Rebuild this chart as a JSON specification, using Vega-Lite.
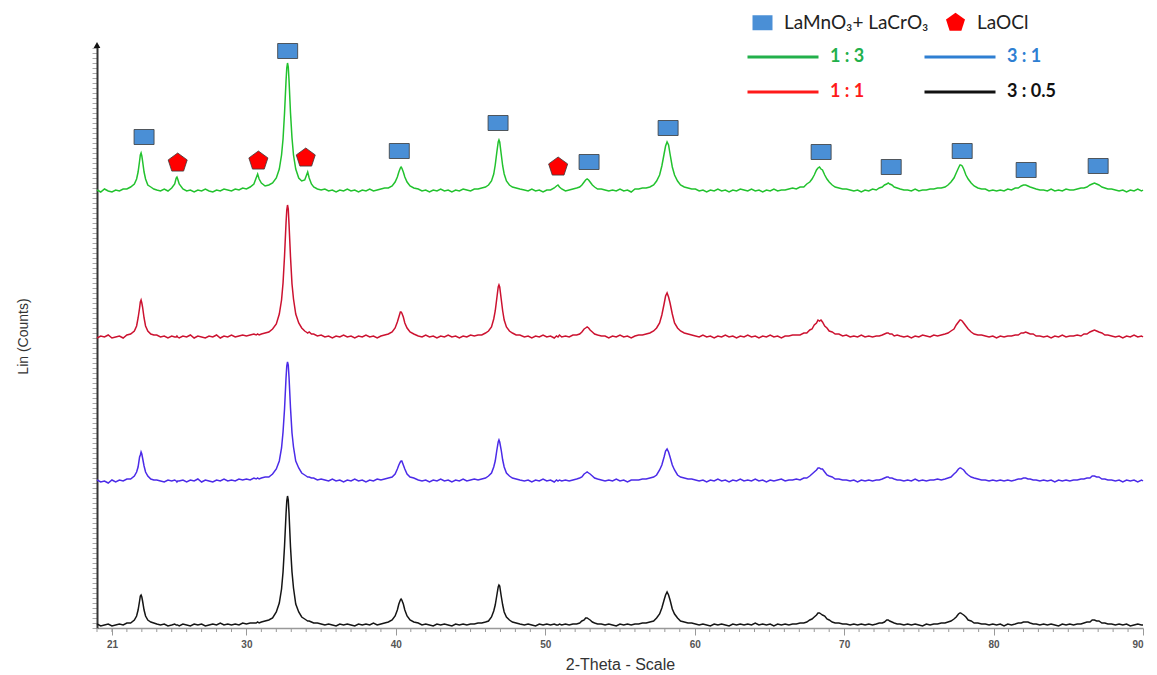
{
  "$schema": "https://vega.github.io/schema/vega-lite/v6.json",
  "width": 1046,
  "height": 583,
  "autosize": {"type": "none"},
  "padding": {"left": 97, "top": 45, "right": 14, "bottom": 47},
  "background": "white",
  "config": {"view": {"stroke": null}, "legend": {"padding": 0}},
  "layer": [
    {
      "data": {"values": [
        {"theta":20.0,"g":438,"r":290,"b":148,"k":4},
        {"theta":20.25,"g":436,"r":292,"b":146,"k":2},
        {"theta":20.5,"g":439,"r":291,"b":147,"k":3},
        {"theta":20.75,"g":437,"r":293,"b":145,"k":4},
        {"theta":21.0,"g":436,"r":290,"b":148,"k":2},
        {"theta":21.25,"g":438,"r":291,"b":146,"k":3},
        {"theta":21.5,"g":437,"r":292,"b":148,"k":4},
        {"theta":21.75,"g":439,"r":290,"b":147,"k":3},
        {"theta":22.0,"g":439,"r":293,"b":149,"k":5},
        {"theta":22.25,"g":441,"r":294,"b":149,"k":5},
        {"theta":22.5,"g":444,"r":297,"b":152,"k":8},
        {"theta":22.65,"g":449,"r":302,"b":156,"k":12},
        {"theta":22.75,"g":456,"r":310,"b":161,"k":18},
        {"theta":22.85,"g":467,"r":320,"b":171,"k":27},
        {"theta":22.9,"g":473,"r":326,"b":173,"k":32},
        {"theta":22.95,"g":475,"r":328,"b":176,"k":33},
        {"theta":23.0,"g":472,"r":325,"b":174,"k":31},
        {"theta":23.05,"g":467,"r":321,"b":170,"k":27},
        {"theta":23.15,"g":456,"r":310,"b":162,"k":18},
        {"theta":23.25,"g":449,"r":302,"b":156,"k":12},
        {"theta":23.4,"g":443,"r":297,"b":152,"k":8},
        {"theta":23.6,"g":441,"r":294,"b":149,"k":6},
        {"theta":23.8,"g":439,"r":293,"b":148,"k":5},
        {"theta":24.0,"g":438,"r":293,"b":148,"k":4},
        {"theta":24.25,"g":437,"r":291,"b":147,"k":3},
        {"theta":24.5,"g":439,"r":292,"b":146,"k":4},
        {"theta":24.75,"g":437,"r":290,"b":148,"k":2},
        {"theta":25.0,"g":440,"r":292,"b":147,"k":3},
        {"theta":25.2,"g":444,"r":291,"b":148,"k":4},
        {"theta":25.3,"g":450,"r":291,"b":147,"k":3},
        {"theta":25.35,"g":451,"r":292,"b":146,"k":3},
        {"theta":25.4,"g":449,"r":291,"b":147,"k":3},
        {"theta":25.5,"g":444,"r":290,"b":147,"k":2},
        {"theta":25.75,"g":439,"r":292,"b":148,"k":4},
        {"theta":26.0,"g":437,"r":291,"b":146,"k":3},
        {"theta":26.25,"g":438,"r":293,"b":148,"k":2},
        {"theta":26.5,"g":436,"r":290,"b":147,"k":4},
        {"theta":26.75,"g":438,"r":292,"b":149,"k":3},
        {"theta":27.0,"g":437,"r":291,"b":146,"k":4},
        {"theta":27.25,"g":439,"r":290,"b":148,"k":2},
        {"theta":27.5,"g":437,"r":292,"b":147,"k":3},
        {"theta":27.75,"g":436,"r":291,"b":146,"k":4},
        {"theta":28.0,"g":438,"r":293,"b":148,"k":3},
        {"theta":28.25,"g":437,"r":290,"b":147,"k":5},
        {"theta":28.5,"g":439,"r":292,"b":149,"k":3},
        {"theta":28.75,"g":438,"r":291,"b":147,"k":4},
        {"theta":29.0,"g":437,"r":293,"b":148,"k":3},
        {"theta":29.25,"g":439,"r":291,"b":147,"k":4},
        {"theta":29.5,"g":438,"r":292,"b":149,"k":3},
        {"theta":29.75,"g":440,"r":293,"b":148,"k":5},
        {"theta":30.0,"g":439,"r":292,"b":149,"k":4},
        {"theta":30.25,"g":441,"r":293,"b":148,"k":5},
        {"theta":30.5,"g":444,"r":294,"b":150,"k":5},
        {"theta":30.65,"g":450,"r":293,"b":149,"k":5},
        {"theta":30.75,"g":454,"r":294,"b":150,"k":6},
        {"theta":30.85,"g":449,"r":293,"b":149,"k":5},
        {"theta":31.0,"g":445,"r":294,"b":150,"k":6},
        {"theta":31.25,"g":442,"r":295,"b":151,"k":7},
        {"theta":31.5,"g":443,"r":296,"b":151,"k":8},
        {"theta":31.75,"g":445,"r":299,"b":154,"k":10},
        {"theta":32.0,"g":450,"r":304,"b":159,"k":16},
        {"theta":32.2,"g":459,"r":314,"b":167,"k":25},
        {"theta":32.35,"g":473,"r":328,"b":180,"k":39},
        {"theta":32.45,"g":489,"r":345,"b":196,"k":56},
        {"theta":32.55,"g":515,"r":372,"b":219,"k":82},
        {"theta":32.65,"g":547,"r":405,"b":250,"k":114},
        {"theta":32.7,"g":560,"r":418,"b":262,"k":127},
        {"theta":32.75,"g":565,"r":423,"b":266,"k":132},
        {"theta":32.8,"g":561,"r":419,"b":263,"k":128},
        {"theta":32.85,"g":548,"r":404,"b":251,"k":115},
        {"theta":32.95,"g":515,"r":371,"b":220,"k":81},
        {"theta":33.05,"g":490,"r":344,"b":195,"k":56},
        {"theta":33.15,"g":473,"r":329,"b":181,"k":40},
        {"theta":33.3,"g":459,"r":314,"b":167,"k":24},
        {"theta":33.5,"g":450,"r":305,"b":160,"k":16},
        {"theta":33.7,"g":447,"r":300,"b":155,"k":11},
        {"theta":33.9,"g":448,"r":297,"b":153,"k":9},
        {"theta":34.0,"g":452,"r":296,"b":152,"k":8},
        {"theta":34.1,"g":456,"r":295,"b":151,"k":7},
        {"theta":34.2,"g":450,"r":296,"b":151,"k":7},
        {"theta":34.35,"g":444,"r":294,"b":150,"k":6},
        {"theta":34.5,"g":441,"r":294,"b":150,"k":5},
        {"theta":34.75,"g":439,"r":292,"b":148,"k":5},
        {"theta":35.0,"g":438,"r":293,"b":149,"k":4},
        {"theta":35.25,"g":439,"r":291,"b":148,"k":3},
        {"theta":35.5,"g":437,"r":292,"b":147,"k":4},
        {"theta":35.75,"g":438,"r":290,"b":149,"k":3},
        {"theta":36.0,"g":436,"r":292,"b":147,"k":2},
        {"theta":36.25,"g":438,"r":291,"b":148,"k":4},
        {"theta":36.5,"g":437,"r":293,"b":146,"k":3},
        {"theta":36.75,"g":439,"r":291,"b":148,"k":4},
        {"theta":37.0,"g":437,"r":292,"b":147,"k":3},
        {"theta":37.25,"g":438,"r":290,"b":149,"k":2},
        {"theta":37.5,"g":436,"r":292,"b":147,"k":4},
        {"theta":37.75,"g":438,"r":291,"b":148,"k":3},
        {"theta":38.0,"g":437,"r":293,"b":146,"k":4},
        {"theta":38.25,"g":439,"r":291,"b":148,"k":3},
        {"theta":38.5,"g":437,"r":292,"b":147,"k":5},
        {"theta":38.75,"g":438,"r":290,"b":149,"k":3},
        {"theta":39.0,"g":439,"r":292,"b":148,"k":4},
        {"theta":39.25,"g":440,"r":293,"b":149,"k":5},
        {"theta":39.5,"g":440,"r":294,"b":150,"k":6},
        {"theta":39.75,"g":442,"r":296,"b":151,"k":8},
        {"theta":39.95,"g":446,"r":300,"b":154,"k":12},
        {"theta":40.1,"g":451,"r":306,"b":159,"k":18},
        {"theta":40.2,"g":456,"r":311,"b":163,"k":24},
        {"theta":40.3,"g":460,"r":316,"b":166,"k":28},
        {"theta":40.35,"g":461,"r":316,"b":167,"k":29},
        {"theta":40.4,"g":460,"r":315,"b":167,"k":28},
        {"theta":40.5,"g":456,"r":311,"b":163,"k":24},
        {"theta":40.6,"g":451,"r":305,"b":159,"k":18},
        {"theta":40.75,"g":446,"r":300,"b":154,"k":12},
        {"theta":40.95,"g":442,"r":296,"b":151,"k":8},
        {"theta":41.2,"g":440,"r":294,"b":150,"k":6},
        {"theta":41.5,"g":439,"r":292,"b":148,"k":5},
        {"theta":41.75,"g":437,"r":291,"b":147,"k":3},
        {"theta":42.0,"g":438,"r":293,"b":148,"k":4},
        {"theta":42.25,"g":436,"r":291,"b":146,"k":3},
        {"theta":42.5,"g":438,"r":292,"b":148,"k":2},
        {"theta":42.75,"g":437,"r":290,"b":147,"k":4},
        {"theta":43.0,"g":439,"r":292,"b":149,"k":3},
        {"theta":43.25,"g":437,"r":291,"b":147,"k":4},
        {"theta":43.5,"g":438,"r":293,"b":148,"k":3},
        {"theta":43.75,"g":436,"r":291,"b":146,"k":2},
        {"theta":44.0,"g":438,"r":292,"b":148,"k":4},
        {"theta":44.25,"g":437,"r":290,"b":147,"k":3},
        {"theta":44.5,"g":439,"r":292,"b":149,"k":4},
        {"theta":44.75,"g":438,"r":291,"b":147,"k":3},
        {"theta":45.0,"g":437,"r":293,"b":148,"k":4},
        {"theta":45.25,"g":439,"r":292,"b":149,"k":4},
        {"theta":45.5,"g":439,"r":293,"b":148,"k":5},
        {"theta":45.75,"g":440,"r":293,"b":149,"k":5},
        {"theta":46.0,"g":441,"r":295,"b":150,"k":6},
        {"theta":46.2,"g":443,"r":297,"b":152,"k":7},
        {"theta":46.4,"g":447,"r":301,"b":155,"k":11},
        {"theta":46.55,"g":454,"r":309,"b":161,"k":17},
        {"theta":46.65,"g":463,"r":317,"b":167,"k":23},
        {"theta":46.75,"g":475,"r":329,"b":177,"k":32},
        {"theta":46.85,"g":486,"r":341,"b":186,"k":41},
        {"theta":46.9,"g":488,"r":343,"b":188,"k":43},
        {"theta":46.95,"g":486,"r":341,"b":186,"k":42},
        {"theta":47.05,"g":474,"r":329,"b":178,"k":32},
        {"theta":47.15,"g":462,"r":317,"b":168,"k":23},
        {"theta":47.25,"g":454,"r":308,"b":161,"k":16},
        {"theta":47.4,"g":447,"r":301,"b":155,"k":11},
        {"theta":47.6,"g":443,"r":297,"b":152,"k":8},
        {"theta":47.8,"g":441,"r":295,"b":150,"k":6},
        {"theta":48.05,"g":440,"r":293,"b":149,"k":5},
        {"theta":48.3,"g":439,"r":293,"b":148,"k":4},
        {"theta":48.6,"g":438,"r":291,"b":147,"k":3},
        {"theta":48.85,"g":437,"r":292,"b":148,"k":4},
        {"theta":49.1,"g":439,"r":290,"b":146,"k":3},
        {"theta":49.35,"g":437,"r":292,"b":148,"k":2},
        {"theta":49.6,"g":438,"r":291,"b":147,"k":4},
        {"theta":49.85,"g":436,"r":293,"b":149,"k":3},
        {"theta":50.1,"g":438,"r":291,"b":147,"k":4},
        {"theta":50.35,"g":438,"r":292,"b":148,"k":3},
        {"theta":50.6,"g":440,"r":290,"b":146,"k":4},
        {"theta":50.75,"g":442,"r":292,"b":148,"k":3},
        {"theta":50.85,"g":443,"r":291,"b":147,"k":3},
        {"theta":50.95,"g":441,"r":293,"b":148,"k":4},
        {"theta":51.1,"g":439,"r":291,"b":147,"k":3},
        {"theta":51.35,"g":437,"r":292,"b":148,"k":4},
        {"theta":51.6,"g":438,"r":291,"b":147,"k":3},
        {"theta":51.85,"g":439,"r":293,"b":148,"k":4},
        {"theta":52.1,"g":440,"r":293,"b":149,"k":4},
        {"theta":52.3,"g":441,"r":294,"b":150,"k":5},
        {"theta":52.45,"g":443,"r":296,"b":151,"k":7},
        {"theta":52.6,"g":446,"r":299,"b":154,"k":8},
        {"theta":52.7,"g":448,"r":300,"b":155,"k":10},
        {"theta":52.8,"g":449,"r":301,"b":156,"k":10},
        {"theta":52.9,"g":448,"r":300,"b":155,"k":9},
        {"theta":53.0,"g":446,"r":298,"b":154,"k":8},
        {"theta":53.15,"g":443,"r":296,"b":152,"k":6},
        {"theta":53.3,"g":441,"r":294,"b":150,"k":5},
        {"theta":53.5,"g":439,"r":293,"b":149,"k":4},
        {"theta":53.75,"g":439,"r":292,"b":148,"k":4},
        {"theta":54.0,"g":438,"r":292,"b":147,"k":3},
        {"theta":54.25,"g":437,"r":290,"b":148,"k":4},
        {"theta":54.5,"g":438,"r":292,"b":147,"k":3},
        {"theta":54.75,"g":437,"r":291,"b":149,"k":2},
        {"theta":55.0,"g":439,"r":293,"b":147,"k":4},
        {"theta":55.25,"g":437,"r":291,"b":148,"k":3},
        {"theta":55.5,"g":438,"r":292,"b":146,"k":4},
        {"theta":55.75,"g":436,"r":290,"b":148,"k":3},
        {"theta":56.0,"g":439,"r":292,"b":148,"k":4},
        {"theta":56.25,"g":439,"r":293,"b":148,"k":4},
        {"theta":56.5,"g":440,"r":293,"b":149,"k":5},
        {"theta":56.75,"g":440,"r":294,"b":149,"k":5},
        {"theta":57.0,"g":441,"r":295,"b":150,"k":6},
        {"theta":57.25,"g":443,"r":297,"b":151,"k":7},
        {"theta":57.45,"g":447,"r":300,"b":153,"k":10},
        {"theta":57.65,"g":453,"r":305,"b":158,"k":14},
        {"theta":57.8,"g":462,"r":313,"b":163,"k":20},
        {"theta":57.95,"g":474,"r":324,"b":171,"k":28},
        {"theta":58.05,"g":482,"r":332,"b":177,"k":33},
        {"theta":58.15,"g":486,"r":335,"b":179,"k":36},
        {"theta":58.25,"g":483,"r":331,"b":176,"k":33},
        {"theta":58.35,"g":474,"r":325,"b":171,"k":28},
        {"theta":58.5,"g":461,"r":314,"b":163,"k":19},
        {"theta":58.65,"g":453,"r":305,"b":158,"k":14},
        {"theta":58.85,"g":447,"r":300,"b":153,"k":10},
        {"theta":59.05,"g":443,"r":297,"b":151,"k":7},
        {"theta":59.3,"g":441,"r":295,"b":150,"k":6},
        {"theta":59.55,"g":440,"r":294,"b":149,"k":5},
        {"theta":59.8,"g":439,"r":293,"b":149,"k":5},
        {"theta":60.05,"g":439,"r":292,"b":148,"k":4},
        {"theta":60.3,"g":437,"r":291,"b":147,"k":3},
        {"theta":60.55,"g":438,"r":293,"b":148,"k":4},
        {"theta":60.8,"g":436,"r":291,"b":146,"k":3},
        {"theta":61.05,"g":438,"r":292,"b":148,"k":2},
        {"theta":61.3,"g":437,"r":290,"b":147,"k":4},
        {"theta":61.55,"g":439,"r":292,"b":149,"k":3},
        {"theta":61.8,"g":437,"r":291,"b":147,"k":4},
        {"theta":62.05,"g":438,"r":293,"b":148,"k":3},
        {"theta":62.3,"g":436,"r":291,"b":146,"k":2},
        {"theta":62.55,"g":438,"r":292,"b":148,"k":4},
        {"theta":62.8,"g":437,"r":290,"b":147,"k":3},
        {"theta":63.05,"g":439,"r":292,"b":149,"k":4},
        {"theta":63.3,"g":438,"r":291,"b":147,"k":3},
        {"theta":63.55,"g":437,"r":293,"b":148,"k":4},
        {"theta":63.8,"g":439,"r":291,"b":147,"k":3},
        {"theta":64.05,"g":437,"r":292,"b":149,"k":5},
        {"theta":64.3,"g":438,"r":290,"b":147,"k":3},
        {"theta":64.55,"g":436,"r":292,"b":148,"k":4},
        {"theta":64.8,"g":438,"r":291,"b":146,"k":3},
        {"theta":65.05,"g":437,"r":293,"b":148,"k":4},
        {"theta":65.3,"g":439,"r":291,"b":147,"k":2},
        {"theta":65.55,"g":437,"r":292,"b":148,"k":4},
        {"theta":65.8,"g":438,"r":290,"b":149,"k":3},
        {"theta":66.05,"g":438,"r":292,"b":147,"k":4},
        {"theta":66.3,"g":439,"r":292,"b":148,"k":3},
        {"theta":66.55,"g":440,"r":293,"b":148,"k":4},
        {"theta":66.8,"g":439,"r":293,"b":149,"k":4},
        {"theta":67.05,"g":441,"r":293,"b":148,"k":5},
        {"theta":67.3,"g":441,"r":295,"b":150,"k":5},
        {"theta":67.5,"g":444,"r":295,"b":150,"k":6},
        {"theta":67.7,"g":446,"r":298,"b":152,"k":8},
        {"theta":67.85,"g":449,"r":299,"b":154,"k":9},
        {"theta":68.0,"g":453,"r":303,"b":156,"k":11},
        {"theta":68.15,"g":458,"r":305,"b":158,"k":13},
        {"theta":68.25,"g":460,"r":308,"b":160,"k":15},
        {"theta":68.35,"g":461,"r":307,"b":160,"k":15},
        {"theta":68.45,"g":459,"r":308,"b":159,"k":14},
        {"theta":68.55,"g":458,"r":306,"b":159,"k":13},
        {"theta":68.7,"g":453,"r":302,"b":156,"k":12},
        {"theta":68.85,"g":449,"r":300,"b":153,"k":9},
        {"theta":69.0,"g":446,"r":297,"b":152,"k":8},
        {"theta":69.2,"g":443,"r":296,"b":151,"k":6},
        {"theta":69.4,"g":441,"r":294,"b":149,"k":5},
        {"theta":69.65,"g":440,"r":294,"b":149,"k":5},
        {"theta":69.9,"g":439,"r":292,"b":148,"k":4},
        {"theta":70.15,"g":439,"r":293,"b":148,"k":4},
        {"theta":70.4,"g":438,"r":291,"b":147,"k":3},
        {"theta":70.65,"g":437,"r":292,"b":148,"k":4},
        {"theta":70.9,"g":438,"r":291,"b":146,"k":3},
        {"theta":71.15,"g":436,"r":293,"b":148,"k":4},
        {"theta":71.4,"g":438,"r":291,"b":147,"k":3},
        {"theta":71.65,"g":437,"r":292,"b":148,"k":4},
        {"theta":71.9,"g":439,"r":291,"b":147,"k":3},
        {"theta":72.15,"g":438,"r":292,"b":148,"k":4},
        {"theta":72.35,"g":440,"r":292,"b":148,"k":5},
        {"theta":72.55,"g":441,"r":293,"b":149,"k":5},
        {"theta":72.7,"g":443,"r":294,"b":150,"k":6},
        {"theta":72.85,"g":444,"r":295,"b":151,"k":8},
        {"theta":72.95,"g":445,"r":295,"b":151,"k":8},
        {"theta":73.05,"g":444,"r":294,"b":150,"k":7},
        {"theta":73.2,"g":443,"r":294,"b":150,"k":6},
        {"theta":73.35,"g":441,"r":292,"b":149,"k":5},
        {"theta":73.55,"g":440,"r":293,"b":148,"k":4},
        {"theta":73.75,"g":439,"r":292,"b":148,"k":4},
        {"theta":74.0,"g":438,"r":291,"b":147,"k":3},
        {"theta":74.25,"g":438,"r":292,"b":148,"k":4},
        {"theta":74.5,"g":437,"r":290,"b":147,"k":3},
        {"theta":74.75,"g":439,"r":292,"b":149,"k":4},
        {"theta":75.0,"g":437,"r":291,"b":147,"k":3},
        {"theta":75.25,"g":438,"r":293,"b":148,"k":2},
        {"theta":75.5,"g":438,"r":292,"b":147,"k":4},
        {"theta":75.75,"g":439,"r":291,"b":148,"k":3},
        {"theta":76.0,"g":439,"r":293,"b":148,"k":4},
        {"theta":76.25,"g":440,"r":292,"b":149,"k":4},
        {"theta":76.5,"g":440,"r":293,"b":148,"k":5},
        {"theta":76.75,"g":441,"r":294,"b":149,"k":5},
        {"theta":76.95,"g":443,"r":295,"b":150,"k":6},
        {"theta":77.15,"g":446,"r":297,"b":151,"k":7},
        {"theta":77.35,"g":450,"r":299,"b":154,"k":9},
        {"theta":77.5,"g":455,"r":303,"b":156,"k":11},
        {"theta":77.65,"g":460,"r":306,"b":159,"k":14},
        {"theta":77.75,"g":463,"r":308,"b":160,"k":15},
        {"theta":77.8,"g":463,"r":308,"b":160,"k":15},
        {"theta":77.9,"g":462,"r":307,"b":159,"k":14},
        {"theta":78.0,"g":459,"r":305,"b":158,"k":13},
        {"theta":78.15,"g":453,"r":302,"b":155,"k":11},
        {"theta":78.3,"g":449,"r":299,"b":153,"k":8},
        {"theta":78.5,"g":445,"r":296,"b":151,"k":7},
        {"theta":78.7,"g":442,"r":294,"b":150,"k":5},
        {"theta":78.95,"g":440,"r":293,"b":149,"k":5},
        {"theta":79.2,"g":439,"r":293,"b":148,"k":4},
        {"theta":79.45,"g":439,"r":292,"b":148,"k":4},
        {"theta":79.7,"g":437,"r":291,"b":147,"k":3},
        {"theta":79.95,"g":438,"r":292,"b":148,"k":4},
        {"theta":80.2,"g":437,"r":290,"b":147,"k":3},
        {"theta":80.45,"g":438,"r":292,"b":148,"k":4},
        {"theta":80.7,"g":437,"r":291,"b":147,"k":2},
        {"theta":80.95,"g":439,"r":292,"b":148,"k":4},
        {"theta":81.2,"g":438,"r":292,"b":147,"k":3},
        {"theta":81.45,"g":440,"r":293,"b":148,"k":4},
        {"theta":81.65,"g":440,"r":293,"b":149,"k":5},
        {"theta":81.85,"g":442,"r":295,"b":149,"k":5},
        {"theta":82.0,"g":443,"r":295,"b":150,"k":6},
        {"theta":82.15,"g":443,"r":296,"b":150,"k":6},
        {"theta":82.3,"g":442,"r":295,"b":149,"k":6},
        {"theta":82.45,"g":441,"r":294,"b":149,"k":5},
        {"theta":82.65,"g":440,"r":294,"b":148,"k":4},
        {"theta":82.85,"g":439,"r":292,"b":148,"k":4},
        {"theta":83.1,"g":438,"r":292,"b":147,"k":3},
        {"theta":83.35,"g":438,"r":291,"b":148,"k":4},
        {"theta":83.6,"g":437,"r":292,"b":147,"k":3},
        {"theta":83.85,"g":439,"r":290,"b":148,"k":4},
        {"theta":84.1,"g":437,"r":292,"b":146,"k":3},
        {"theta":84.35,"g":438,"r":291,"b":148,"k":2},
        {"theta":84.6,"g":437,"r":293,"b":147,"k":4},
        {"theta":84.85,"g":439,"r":291,"b":148,"k":3},
        {"theta":85.1,"g":438,"r":292,"b":147,"k":4},
        {"theta":85.35,"g":438,"r":292,"b":148,"k":3},
        {"theta":85.6,"g":439,"r":293,"b":148,"k":4},
        {"theta":85.85,"g":440,"r":292,"b":149,"k":4},
        {"theta":86.05,"g":440,"r":294,"b":149,"k":5},
        {"theta":86.25,"g":441,"r":294,"b":150,"k":6},
        {"theta":86.45,"g":443,"r":296,"b":150,"k":6},
        {"theta":86.6,"g":444,"r":297,"b":152,"k":8},
        {"theta":86.75,"g":445,"r":298,"b":152,"k":8},
        {"theta":86.9,"g":444,"r":297,"b":151,"k":7},
        {"theta":87.05,"g":443,"r":296,"b":151,"k":7},
        {"theta":87.25,"g":441,"r":295,"b":149,"k":5},
        {"theta":87.45,"g":440,"r":293,"b":149,"k":5},
        {"theta":87.65,"g":439,"r":293,"b":148,"k":4},
        {"theta":87.9,"g":439,"r":292,"b":148,"k":4},
        {"theta":88.15,"g":438,"r":291,"b":147,"k":3},
        {"theta":88.4,"g":437,"r":292,"b":148,"k":4},
        {"theta":88.65,"g":438,"r":290,"b":146,"k":3},
        {"theta":88.9,"g":436,"r":292,"b":148,"k":4},
        {"theta":89.15,"g":438,"r":291,"b":147,"k":2},
        {"theta":89.4,"g":437,"r":293,"b":148,"k":3},
        {"theta":89.65,"g":439,"r":291,"b":146,"k":4},
        {"theta":89.9,"g":437,"r":292,"b":148,"k":3},
        {"theta":90.0,"g":438,"r":291,"b":147,"k":3}
      ]},
      "transform": [{"fold": ["g", "r", "b", "k"], "as": ["series", "counts"]}],
      "mark": {"type": "line", "strokeWidth": 1.5, "interpolate": "linear"},
      "encoding": {
        "x": {
          "field": "theta", "type": "quantitative",
          "scale": {"domain": [20, 90], "nice": false, "zero": false},
          "axis": {
            "title": "2-Theta - Scale",
            "titleFont": "Liberation Sans", "titleFontSize": 16, "titleFontWeight": "normal", "titleColor": "#333333",
            "titleBaseline": "middle", "titleY": 36,
            "values": [21, 30, 40, 50, 60, 70, 80, 90],
            "labelOverlap": false,
            "labelFont": "Liberation Sans", "labelFontSize": 10, "labelFontWeight": "bold", "labelColor": "#555555", "labelPadding": 4,
            "domainColor": "#999999", "domainWidth": 1.5,
            "tickColor": "#999999", "tickWidth": 1, "tickSize": 7,
            "grid": false
          }
        },
        "y": {
          "field": "counts", "type": "quantitative",
          "scale": {"domain": [0, 583], "nice": false, "zero": false},
          "axis": {
            "title": "Lin (Counts)",
            "titleFont": "Liberation Sans", "titleFontSize": 14, "titleFontWeight": "normal", "titleColor": "#333333",
            "titleX": -67, "titleY": 291,
            "labels": false, "tickCount": 116, "tickSize": 5, "tickColor": "#aaaaaa", "tickWidth": 1,
            "domainColor": "#333333", "domainWidth": 2, "grid": false
          }
        },
        "stroke": {
          "field": "series", "type": "nominal",
          "scale": {"domain": ["g", "b", "r", "k"], "range": ["#22c22e", "#4b2be8", "#cc1230", "#151515"]},
          "legend": null
        }
      }
    },
    {
      "data": {"values": [
        {"theta":20},{"theta":21},{"theta":22},{"theta":23},{"theta":24},{"theta":25},{"theta":26},{"theta":27},{"theta":28},{"theta":29},
        {"theta":31},{"theta":32},{"theta":33},{"theta":34},{"theta":35},{"theta":36},{"theta":37},{"theta":38},{"theta":39},
        {"theta":41},{"theta":42},{"theta":43},{"theta":44},{"theta":45},{"theta":46},{"theta":47},{"theta":48},{"theta":49},
        {"theta":51},{"theta":52},{"theta":53},{"theta":54},{"theta":55},{"theta":56},{"theta":57},{"theta":58},{"theta":59},
        {"theta":61},{"theta":62},{"theta":63},{"theta":64},{"theta":65},{"theta":66},{"theta":67},{"theta":68},{"theta":69},
        {"theta":71},{"theta":72},{"theta":73},{"theta":74},{"theta":75},{"theta":76},{"theta":77},{"theta":78},{"theta":79},
        {"theta":81},{"theta":82},{"theta":83},{"theta":84},{"theta":85},{"theta":86},{"theta":87},{"theta":88},{"theta":89}
      ]},
      "mark": {"type": "rule", "color": "#999999", "strokeWidth": 1},
      "encoding": {
        "x": {"field": "theta", "type": "quantitative"},
        "y": {"datum": 0, "type": "quantitative"},
        "y2": {"datum": -4}
      }
    },
    {
      "data": {"values": [
        {"ratio": "1 : 3", "theta": 20, "counts": 0},
        {"ratio": "3 : 1", "theta": 20, "counts": 0},
        {"ratio": "1 : 1", "theta": 20, "counts": 0},
        {"ratio": "3 : 0.5", "theta": 20, "counts": 0}
      ]},
      "mark": {"type": "line", "strokeWidth": 3, "strokeCap": "butt"},
      "encoding": {
        "x": {"field": "theta", "type": "quantitative"},
        "y": {"field": "counts", "type": "quantitative"},
        "color": {
          "field": "ratio", "type": "nominal",
          "scale": {"domain": ["1 : 3", "3 : 1", "1 : 1", "3 : 0.5"], "range": ["#22b04b", "#2e7fd2", "#ff1a1a", "#111111"]},
          "legend": {
            "orient": "none", "legendX": 677, "legendY": 3, "columns": 2, "direction": "horizontal",
            "title": null, "symbolType": "M-7.1,0H7.1", "symbolSize": 100, "symbolStrokeWidth": 3,
            "labelFont": "Lato", "labelFontSize": 18, "labelFontWeight": "bold",
            "labelOffset": 38, "columnPadding": 53, "rowPadding": 17,
            "encode": {
              "labels": {"update": {"fill": {"signal": "datum.value === '1 : 3' ? '#22b04b' : datum.value === '3 : 1' ? '#2e7fd2' : datum.value === '1 : 1' ? '#ff1a1a' : '#111111'"}}}
            }
          }
        }
      }
    },
    {
      "data": {"values": [
        {"phase": "LaMnO₃+ LaCrO₃", "theta": 23.15, "counts": 491},
        {"phase": "LaMnO₃+ LaCrO₃", "theta": 32.76, "counts": 577},
        {"phase": "LaMnO₃+ LaCrO₃", "theta": 40.23, "counts": 477},
        {"phase": "LaMnO₃+ LaCrO₃", "theta": 46.84, "counts": 505},
        {"phase": "LaMnO₃+ LaCrO₃", "theta": 52.93, "counts": 466},
        {"phase": "LaMnO₃+ LaCrO₃", "theta": 58.22, "counts": 500},
        {"phase": "LaMnO₃+ LaCrO₃", "theta": 68.46, "counts": 476},
        {"phase": "LaMnO₃+ LaCrO₃", "theta": 73.15, "counts": 461},
        {"phase": "LaMnO₃+ LaCrO₃", "theta": 77.9, "counts": 477},
        {"phase": "LaMnO₃+ LaCrO₃", "theta": 82.18, "counts": 458},
        {"phase": "LaMnO₃+ LaCrO₃", "theta": 87.0, "counts": 462},
        {"phase": "LaOCl", "theta": 25.4, "counts": 465},
        {"phase": "LaOCl", "theta": 30.8, "counts": 467},
        {"phase": "LaOCl", "theta": 33.97, "counts": 470},
        {"phase": "LaOCl", "theta": 50.86, "counts": 461}
      ]},
      "mark": {"type": "point", "filled": true, "size": 400, "stroke": "#3a3a3a", "strokeWidth": 1, "strokeOpacity": 0.8, "opacity": 1},
      "encoding": {
        "x": {"field": "theta", "type": "quantitative"},
        "y": {"field": "counts", "type": "quantitative"},
        "fill": {
          "field": "phase", "type": "nominal",
          "scale": {"domain": ["LaMnO₃+ LaCrO₃", "LaOCl"], "range": ["#4a8fd6", "#ff0000"]},
          "legend": {
            "orient": "none", "legendX": 655, "legendY": -33, "direction": "horizontal", "columns": 2,
            "title": null, "labelFont": "Lato", "labelFontSize": 19, "labelColor": "#222222",
            "symbolSize": 400, "labelOffset": 11, "columnPadding": 14,
            "symbolStrokeColor": "#3a3a3a", "symbolStrokeWidth": 1
          }
        },
        "shape": {
          "field": "phase", "type": "nominal",
          "scale": {"domain": ["LaMnO₃+ LaCrO₃", "LaOCl"], "range": ["M-1,-0.75H1V0.75H-1Z", "M0,-1L0.951,-0.309L0.588,0.809L-0.588,0.809L-0.951,-0.309Z"]},
          "legend": {
            "orient": "none", "legendX": 655, "legendY": -33, "direction": "horizontal", "columns": 2,
            "title": null, "labelFont": "Lato", "labelFontSize": 19, "labelColor": "#222222",
            "symbolSize": 400, "labelOffset": 11, "columnPadding": 14,
            "symbolStrokeColor": "#3a3a3a", "symbolStrokeWidth": 1
          }
        }
      }
    },
    {
      "data": {"values": [{"theta": 20, "counts": 583}]},
      "mark": {"type": "point", "shape": "triangle-up", "filled": true, "size": 45, "color": "#111111", "opacity": 1},
      "encoding": {
        "x": {"field": "theta", "type": "quantitative"},
        "y": {"field": "counts", "type": "quantitative"}
      }
    }
  ]
}
